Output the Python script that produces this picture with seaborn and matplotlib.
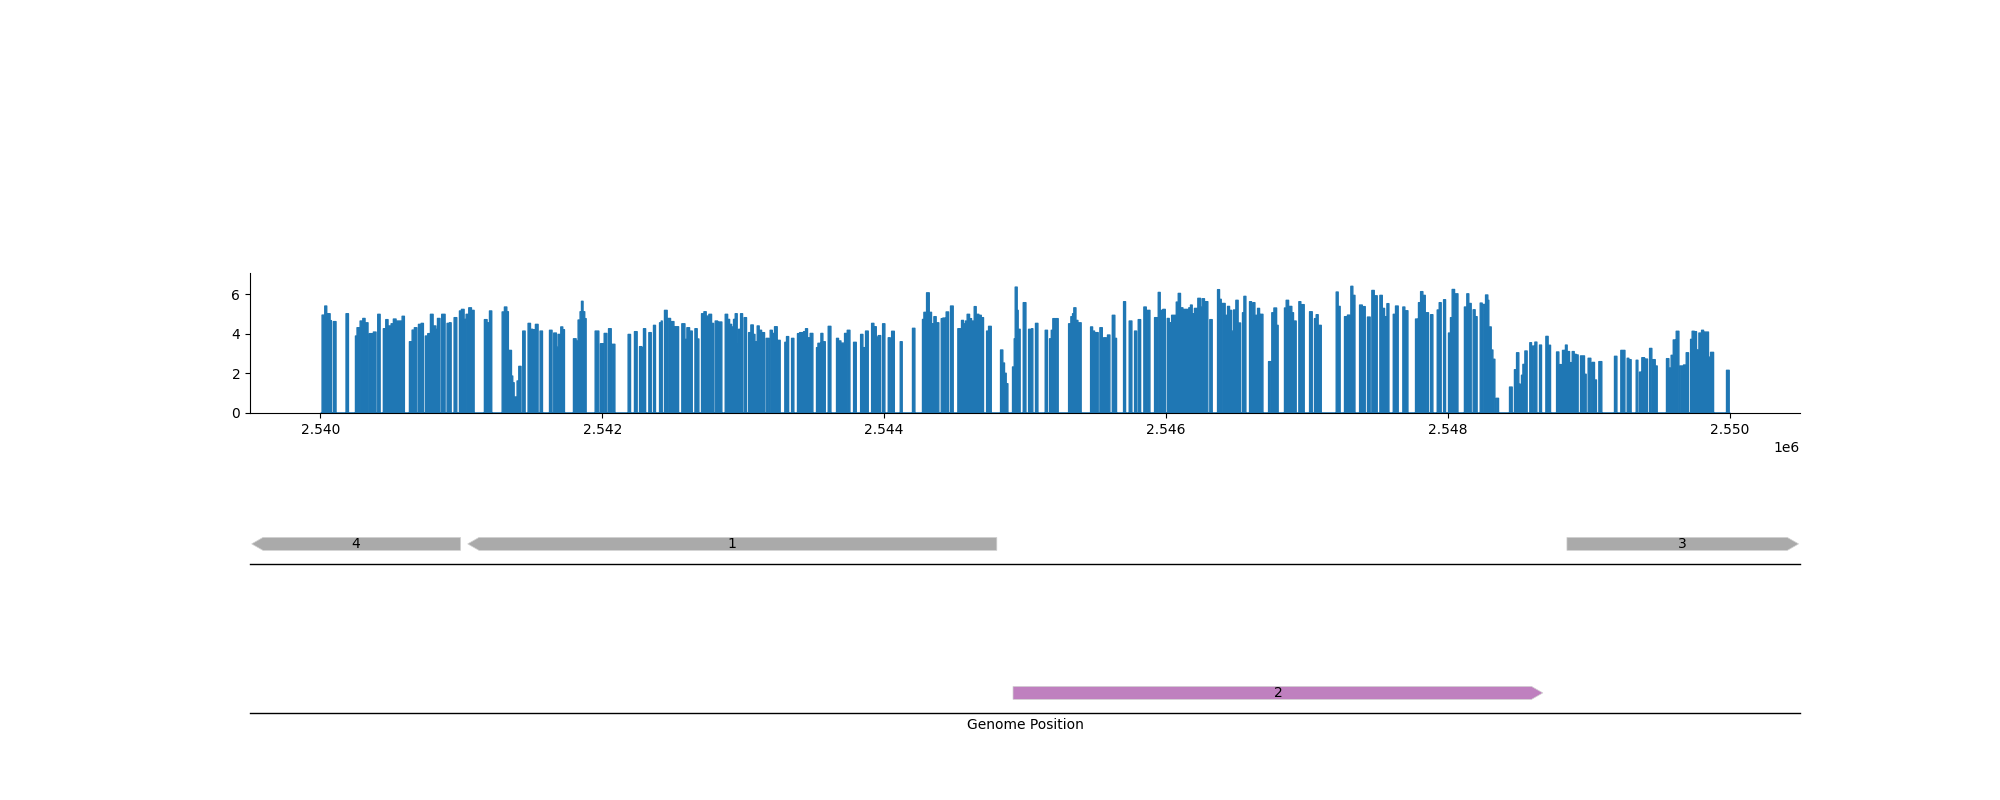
import numpy as np
import pandas as pd
import seaborn as sns
import matplotlib
matplotlib.use('Agg')
import matplotlib.pyplot as plt
from matplotlib.patches import Polygon

# coverage segments (start, end, depth)
cov_start = [
    2540008, 2540027, 2540041, 2540065, 2540088, 2540178,
    2540245, 2540256, 2540278, 2540297, 2540313, 2540344, 2540372, 2540403,
    2540443, 2540460, 2540476, 2540498, 2540514, 2540533, 2540576,
    2540628, 2540647, 2540663, 2540692, 2540711, 2540741, 2540758, 2540777, 2540796, 2540815, 2540827,
    2540857, 2540895, 2540912, 2540945, 2540983, 2540997, 2541016, 2541030, 2541049, 2541068,
    2541160, 2541184, 2541196,
    2541286, 2541302, 2541319, 2541333, 2541352, 2541361, 2541380, 2541392, 2541404, 2541432,
    2541470, 2541487, 2541503, 2541522, 2541555,
    2541622, 2541652, 2541671, 2541683, 2541702, 2541716,
    2541792, 2541811, 2541825, 2541839, 2541849, 2541860, 2541872,
    2541946, 2541984, 2542010,
    2542041, 2542067, 2542180, 2542225, 2542261, 2542277, 2542289, 2542327, 2542360,
    2542403, 2542415, 2542438, 2542464, 2542488, 2542505,
    2542561, 2542583, 2542597, 2542616, 2542654, 2542670,
    2542701, 2542718, 2542734, 2542753, 2542772, 2542798, 2542822,
    2542869, 2542886, 2542900, 2542914, 2542928, 2542940, 2542954, 2542964, 2542978, 2543004,
    2543035, 2543051, 2543068, 2543080, 2543096, 2543110, 2543127, 2543160,
    2543188, 2543203, 2543219, 2543243, 2543292, 2543304, 2543340,
    2543382, 2543397, 2543425, 2543439, 2543453, 2543472,
    2543517, 2543527, 2543548, 2543562, 2543600,
    2543659, 2543673, 2543690, 2543716, 2543735, 2543780,
    2543830, 2543846, 2543865, 2543908, 2543924, 2543941, 2543955, 2543986,
    2544026, 2544050,
    2544111, 2544198, 2544269, 2544279, 2544298, 2544317, 2544338, 2544350, 2544366,
    2544402, 2544414, 2544437, 2544468, 2544520,
    2544546, 2544560, 2544574, 2544586, 2544603, 2544617, 2544636, 2544650, 2544669, 2544686,
    2544724, 2544738, 2544823, 2544839, 2544851, 2544863,
    2544908, 2544920, 2544927, 2544941, 2544948, 2544984, 2545022, 2545045, 2545071,
    2545140, 2545171, 2545183, 2545194, 2545218,
    2545306, 2545322, 2545334, 2545343, 2545358, 2545372,
    2545462, 2545476, 2545497, 2545528, 2545554, 2545582, 2545616, 2545634,
    2545696, 2545736, 2545774, 2545800, 2545840, 2545864,
    2545916, 2545942, 2545956, 2545975, 2546006, 2546020, 2546037, 2546058, 2546070,
    2546084, 2546100, 2546117,
    2546159, 2546171, 2546183, 2546199, 2546223, 2546242, 2546254, 2546270, 2546308,
    2546363, 2546377, 2546396, 2546417, 2546434, 2546448, 2546462, 2546476, 2546493, 2546509,
    2546540, 2546550, 2546590, 2546604, 2546614, 2546628, 2546647, 2546666,
    2546725, 2546748, 2546763, 2546782,
    2546838, 2546850, 2546867, 2546890, 2546902, 2546940, 2546959,
    2547016, 2547051, 2547063, 2547077, 2547205, 2547219,
    2547264, 2547285, 2547309, 2547323, 2547371, 2547394,
    2547427, 2547458, 2547479, 2547515, 2547532, 2547553, 2547565,
    2547610, 2547626, 2547678, 2547692,
    2547768, 2547789, 2547804, 2547820, 2547844, 2547875,
    2547922, 2547936, 2547967, 2548002, 2548016, 2548028, 2548045,
    2548115, 2548132, 2548146, 2548177, 2548191,
    2548227, 2548248, 2548265, 2548281, 2548288, 2548305, 2548317, 2548340,
    2548435, 2548470, 2548485, 2548504, 2548520, 2548530, 2548544,
    2548579, 2548591, 2548615, 2548648, 2548693, 2548709,
    2548769, 2548785, 2548811, 2548832, 2548844, 2548866, 2548880, 2548894, 2548908,
    2548939, 2548967, 2548993, 2549022, 2549038, 2549069,
    2549180, 2549225, 2549270, 2549282,
    2549334, 2549358, 2549374, 2549398, 2549429, 2549452, 2549469,
    2549549, 2549566, 2549582, 2549597, 2549618, 2549646, 2549658, 2549670, 2549689,
    2549720, 2549731, 2549746, 2549767, 2549779, 2549798, 2549819, 2549831, 2549847, 2549862,
    2549975,
]
cov_end = [
    2540027, 2540041, 2540065, 2540074, 2540107, 2540195,
    2540256, 2540273, 2540297, 2540313, 2540334, 2540363, 2540391, 2540420,
    2540460, 2540476, 2540498, 2540514, 2540533, 2540576, 2540592,
    2540647, 2540663, 2540680, 2540711, 2540727, 2540758, 2540775, 2540796, 2540815, 2540827, 2540845,
    2540881, 2540912, 2540924, 2540964, 2540997, 2541016, 2541025, 2541049, 2541068, 2541087,
    2541179, 2541196, 2541212,
    2541302, 2541319, 2541330, 2541352, 2541361, 2541371, 2541392, 2541404, 2541420, 2541449,
    2541487, 2541503, 2541522, 2541541, 2541572,
    2541640, 2541671, 2541683, 2541702, 2541716, 2541728,
    2541811, 2541825, 2541839, 2541849, 2541860, 2541872, 2541882,
    2541972, 2542002, 2542029,
    2542060, 2542086, 2542197, 2542244, 2542277, 2542289, 2542304, 2542344, 2542374,
    2542415, 2542422, 2542457, 2542481, 2542505, 2542538,
    2542583, 2542597, 2542616, 2542635, 2542670, 2542682,
    2542718, 2542734, 2542753, 2542772, 2542786, 2542815, 2542845,
    2542886, 2542900, 2542914, 2542928, 2542935, 2542954, 2542964, 2542978, 2542992, 2543020,
    2543051, 2543068, 2543080, 2543096, 2543110, 2543127, 2543148, 2543179,
    2543203, 2543219, 2543238, 2543259, 2543304, 2543319, 2543356,
    2543397, 2543425, 2543439, 2543453, 2543472, 2543491,
    2543527, 2543543, 2543562, 2543579, 2543619,
    2543673, 2543690, 2543716, 2543728, 2543754, 2543799,
    2543846, 2543865, 2543884, 2543924, 2543941, 2543955, 2543972, 2544002,
    2544040, 2544069,
    2544125, 2544215, 2544279, 2544298, 2544317, 2544333, 2544350, 2544366, 2544385,
    2544414, 2544430, 2544454, 2544487, 2544537,
    2544560, 2544574, 2544586, 2544603, 2544617, 2544636, 2544650, 2544669, 2544686, 2544702,
    2544738, 2544757, 2544839, 2544851, 2544863, 2544875,
    2544920, 2544927, 2544941, 2544948, 2544962, 2545003, 2545045, 2545052, 2545088,
    2545156, 2545183, 2545194, 2545211, 2545232,
    2545322, 2545334, 2545343, 2545358, 2545372, 2545395,
    2545476, 2545490, 2545516, 2545545, 2545573, 2545599, 2545634, 2545646,
    2545710, 2545755, 2545788, 2545817, 2545857, 2545883,
    2545935, 2545956, 2545970, 2545992, 2546020, 2546034, 2546058, 2546070, 2546084,
    2546100, 2546117, 2546150,
    2546171, 2546183, 2546199, 2546223, 2546242, 2546254, 2546270, 2546294, 2546325,
    2546377, 2546389, 2546417, 2546434, 2546448, 2546462, 2546476, 2546493, 2546509, 2546526,
    2546550, 2546564, 2546604, 2546614, 2546628, 2546647, 2546661, 2546685,
    2546741, 2546763, 2546782, 2546793,
    2546850, 2546867, 2546890, 2546902, 2546921, 2546954, 2546978,
    2547035, 2547063, 2547077, 2547099, 2547219, 2547233,
    2547281, 2547300, 2547323, 2547338, 2547390, 2547411,
    2547446, 2547475, 2547496, 2547532, 2547548, 2547565, 2547579,
    2547626, 2547645, 2547692, 2547714,
    2547785, 2547804, 2547820, 2547837, 2547860, 2547891,
    2547936, 2547950, 2547981, 2548016, 2548028, 2548045, 2548069,
    2548132, 2548146, 2548163, 2548191, 2548205,
    2548241, 2548265, 2548281, 2548288, 2548305, 2548317, 2548331, 2548357,
    2548454, 2548485, 2548501, 2548518, 2548530, 2548544, 2548560,
    2548591, 2548608, 2548629, 2548662, 2548709, 2548726,
    2548785, 2548802, 2548828, 2548844, 2548861, 2548880, 2548894, 2548908, 2548922,
    2548967, 2548979, 2549012, 2549038, 2549052, 2549090,
    2549197, 2549254, 2549282, 2549298,
    2549346, 2549369, 2549393, 2549414, 2549445, 2549469, 2549483,
    2549566, 2549582, 2549597, 2549613, 2549637, 2549658, 2549670, 2549689, 2549705,
    2549731, 2549746, 2549762, 2549779, 2549798, 2549812, 2549831, 2549847, 2549862, 2549883,
    2549994,
]
cov_depth = [
    4.98, 5.44, 5.05, 4.70, 4.65, 5.05,
    3.92, 4.34, 4.68, 4.81, 4.59, 4.04, 4.12, 5.02,
    4.29, 4.75, 4.43, 4.54, 4.78, 4.68, 4.92,
    3.63, 4.22, 4.34, 4.51, 4.56, 3.92, 4.04, 5.02, 4.43, 4.26, 4.81,
    5.02, 4.56, 4.59, 4.85, 5.19, 5.27, 4.76, 5.02, 5.35, 5.22,
    4.75, 4.59, 5.19,
    5.14, 5.39, 5.15, 3.19, 1.89, 1.55, 0.83, 1.64, 2.38, 4.17,
    4.56, 4.26, 4.24, 4.51, 4.17,
    4.21, 4.07, 3.36, 4.00, 4.38, 4.24,
    3.78, 3.67, 4.73, 5.15, 5.68, 5.15, 4.80,
    4.17, 3.53, 4.05,
    4.29, 3.50, 4.00, 4.14, 3.38, 3.33, 4.29, 4.09, 4.46,
    4.59, 4.68, 5.22, 4.81, 4.65, 4.39,
    4.54, 3.75, 4.34, 4.17, 4.29, 3.77,
    5.05, 5.15, 4.93, 5.02, 4.56, 4.68, 4.63,
    5.02, 4.76, 4.51, 4.38, 4.76, 5.05, 3.53, 4.26, 5.05, 4.85,
    4.09, 4.48, 4.00, 3.63, 4.43, 4.21, 4.09, 3.80,
    4.21, 4.05, 4.39, 3.70, 3.60, 3.89, 3.80,
    4.04, 4.09, 4.14, 4.29, 3.83, 4.05,
    3.33, 3.55, 4.05, 3.63, 4.41,
    3.80, 3.67, 3.56, 4.05, 4.21, 3.60,
    4.00, 3.33, 4.17, 4.56, 4.39, 3.87, 3.94, 4.54,
    3.83, 4.16,
    3.63, 4.31, 4.76, 5.12, 6.11, 5.12, 4.54, 4.90, 4.59,
    4.80, 4.83, 5.14, 5.44, 4.29,
    4.71, 4.54, 4.68, 5.02, 4.80, 4.68, 5.41, 5.02, 4.97, 4.85,
    4.17, 4.41, 3.21, 2.55, 2.03, 1.50,
    2.35, 3.78, 6.40, 5.22, 4.26, 5.61, 4.26, 4.29, 4.56,
    4.21, 3.78, 4.21, 4.80, 4.80,
    4.54, 4.90, 5.05, 5.35, 4.71, 4.59,
    4.38, 4.17, 4.09, 4.34, 3.83, 3.97, 4.97, 3.80,
    5.66, 4.68, 4.17, 4.75, 5.39, 5.22,
    4.85, 6.13, 5.22, 5.27, 4.81, 4.59, 4.97, 4.97, 5.64,
    6.08, 5.35, 5.27,
    5.35, 5.49, 5.05, 5.32, 5.83, 5.39, 5.81, 5.66, 4.75,
    6.27, 5.78, 5.57, 4.97, 5.42, 5.22, 4.17, 5.24, 5.73, 4.58,
    5.10, 5.93, 5.66, 4.71, 5.61, 4.97, 5.32, 5.02,
    2.62, 5.10, 5.34, 4.46,
    5.34, 5.73, 5.42, 5.10, 4.68, 5.66, 5.51,
    5.15, 4.80, 5.00, 4.46, 6.15, 5.42,
    4.90, 4.98, 6.44, 5.98, 5.49, 5.41,
    4.88, 6.23, 5.96, 5.98, 5.32, 4.90, 5.56,
    5.02, 5.44, 5.39, 5.20,
    4.78, 5.61, 6.17, 5.98, 5.10, 5.00,
    5.24, 5.61, 5.76, 4.07, 4.85, 6.28, 6.06,
    5.39, 6.06, 5.57, 5.25, 4.90,
    5.59, 5.52, 6.00, 5.73, 4.38, 3.21, 2.74, 0.76,
    1.33, 2.21, 3.07, 1.47, 1.93, 2.48, 3.16,
    3.58, 3.41, 3.61, 3.46, 3.90, 3.45,
    3.11, 2.47, 3.19, 3.46, 3.13, 2.57, 3.13, 2.99, 2.96,
    2.91, 1.98, 2.79, 2.58, 1.69, 2.62,
    2.89, 3.19, 2.79, 2.72,
    2.69, 2.09, 2.82, 2.75, 3.29, 2.72, 2.40,
    2.77, 2.30, 2.94, 3.72, 4.16, 2.40, 2.40, 2.45, 3.07,
    3.75, 4.16, 4.14, 3.21, 4.07, 4.21, 4.12, 4.12, 2.85, 3.09,
    2.18,
]

region = [2540000, 2550000]

# gene annotation tracks
gene_label = ['4', '1', '3', '2']
gene_start = [2539512, 2541045, 2548846, 2544915]
gene_end = [2540994, 2544800, 2550490, 2548675]
gene_strand = [-1, -1, 1, 1]
gene_track = [0, 0, 0, 1]
gene_color = ['#aaaaaa', '#aaaaaa', '#aaaaaa', '#bf80bf']

cov = pd.DataFrame({'start': cov_start, 'end': cov_end, 'depth': cov_depth})
cov['mid'] = (cov['start'] + cov['end']) / 2
edges = np.unique(np.concatenate([cov['start'], cov['end'], region])).tolist()

fig = plt.figure(figsize=(20, 8), dpi=100)

# gene tracks first, with see-through background so they don't hide the tick labels
track_axes = [fig.add_axes([0.125, 236.5 / 800, 0.775, 0.175]),
              fig.add_axes([0.125, 87.5 / 800, 0.775, 0.175])]
half_h = 0.046
head = 80
for tax in track_axes:
    tax.patch.set_visible(False)
    tax.set_xlim(region[0] - 500, region[1] + 500)
    tax.set_ylim(0, 1)
    tax.set_yticks([])
    tax.tick_params(axis='x', length=0, labelbottom=False)
    sns.despine(ax=tax, left=True)
    tax.spines['bottom'].set_linewidth(1.0)

for lab, s, e, strand, tr, col in zip(gene_label, gene_start, gene_end, gene_strand, gene_track, gene_color):
    tax = track_axes[tr]
    c = 0.14
    if strand > 0:
        pts = [(s, c - half_h), (e - head, c - half_h), (e, c), (e - head, c + half_h), (s, c + half_h)]
    else:
        pts = [(s, c), (s + head, c + half_h), (e, c + half_h), (e, c - half_h), (s + head, c - half_h)]
    tax.add_patch(Polygon(pts, closed=True, facecolor=col, edgecolor='#d0d0d0', linewidth=0.5))
    tax.text((s + e) / 2, c, lab, ha='center', va='center', fontsize=10)

track_axes[1].set_xlabel('Genome Position')

ax = fig.add_axes([0.125, 0.484, 0.775, 0.175])
sns.histplot(data=cov, x='mid', weights='depth', bins=edges, element='step',
             fill=True, alpha=1, color='#1f77b4', linewidth=1, ax=ax)
ax.set_xlim(region[0] - 500, region[1] + 500)
ax.set_ylim(0, 7.1)
ax.set_yticks([0, 2, 4, 6])
ax.set_xticks(np.arange(region[0], region[1] + 1, 2000))
ax.set_xlabel('')
ax.set_ylabel('')
sns.despine(ax=ax)

fig.savefig('out.png', dpi=100)
